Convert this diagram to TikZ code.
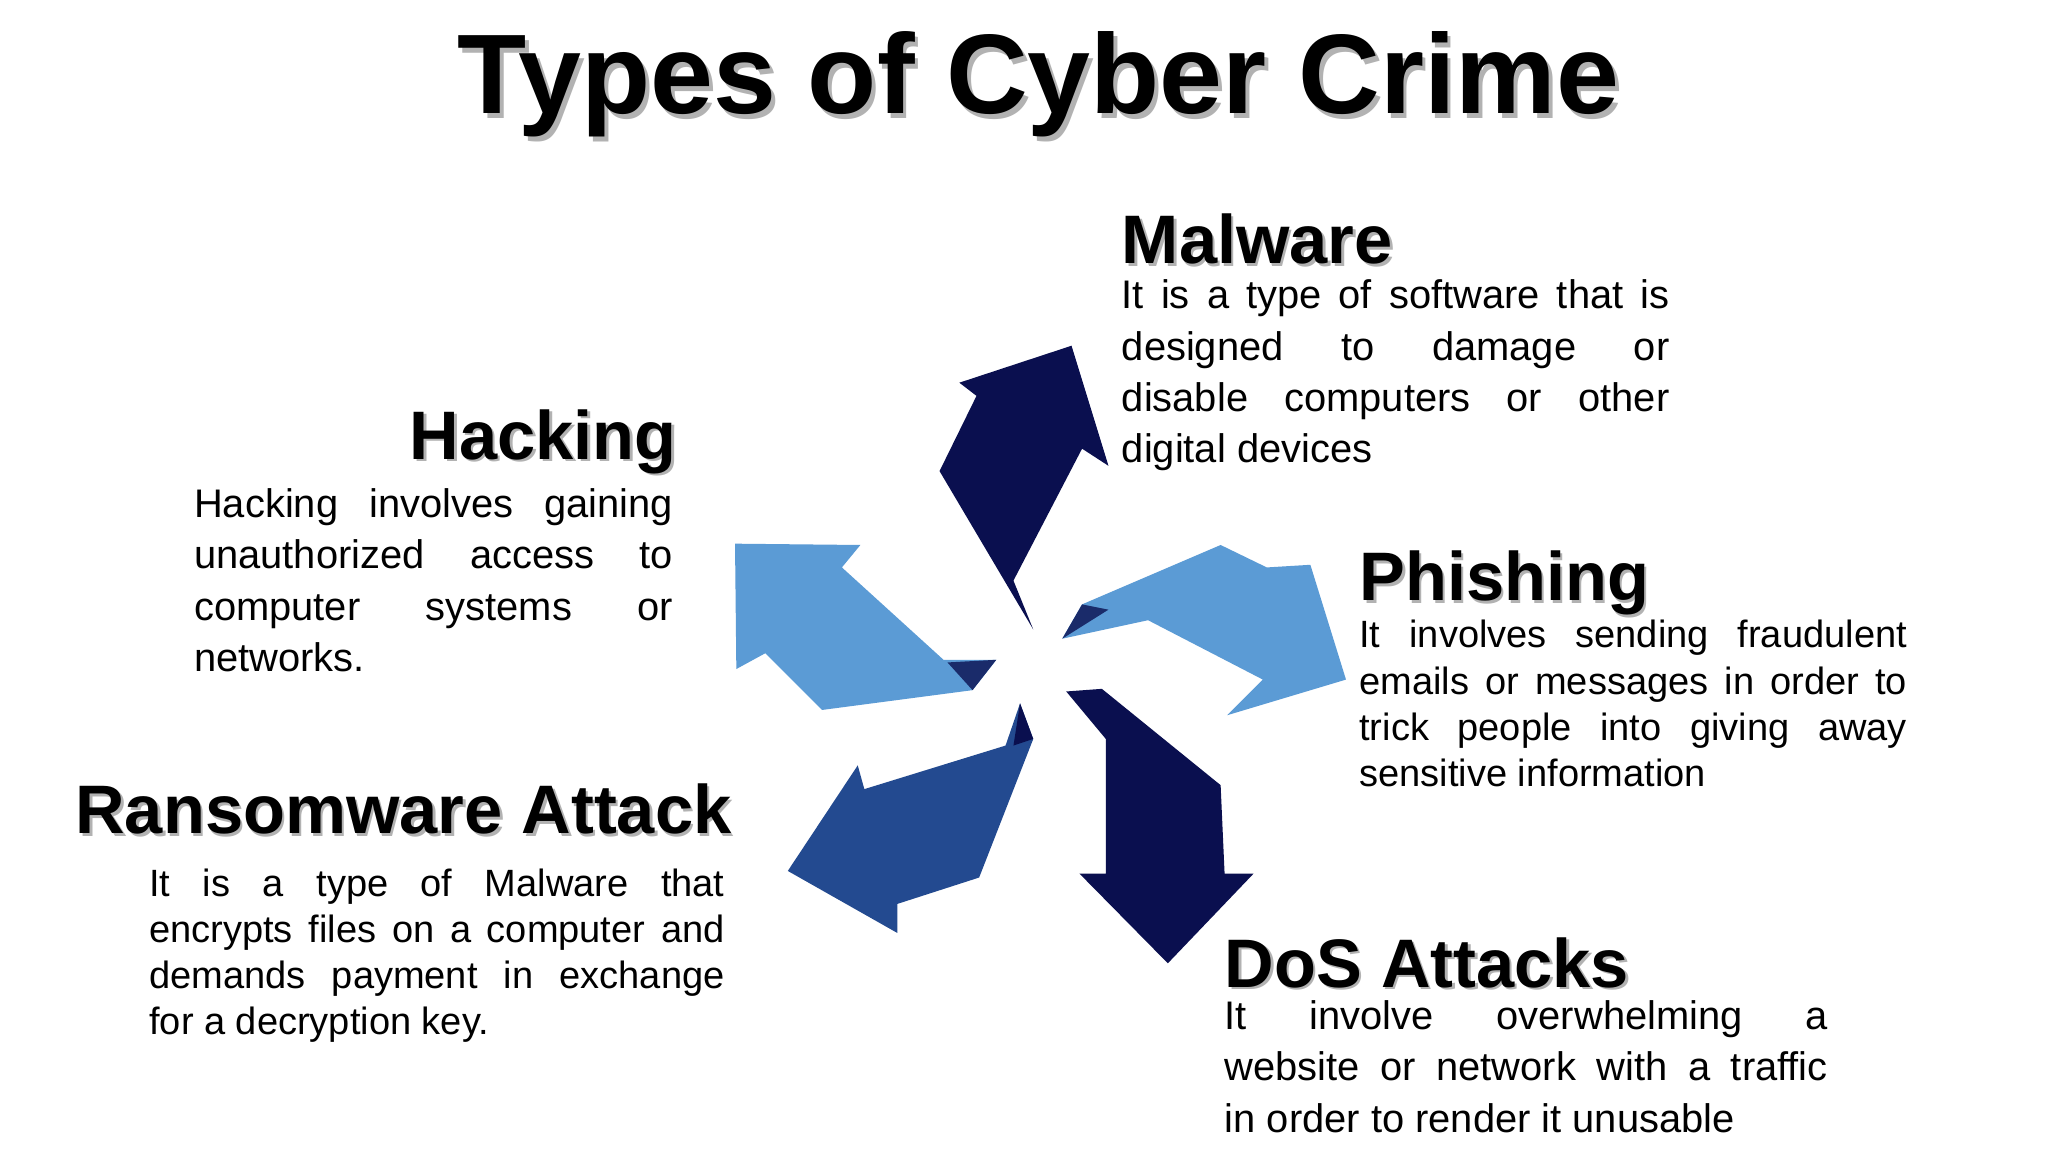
\documentclass[tikz,border=0pt]{standalone}
\usepackage{fontspec}
\setmainfont{Liberation Sans}
\definecolor{navy}{HTML}{0A0F4F}
\definecolor{lblue}{HTML}{5B9BD5}
\definecolor{mblue}{HTML}{234A90}
\begin{document}
\begin{tikzpicture}[x=0.05cm,y=-0.05cm,
 head/.style={inner sep=0pt,font=\bfseries\fontsize{74}{80}\selectfont},
 body/.style={inner sep=0pt,align=justify,anchor=north west,execute at begin node={\hyphenpenalty=10000\exhyphenpenalty=10000}}]
\useasboundingbox (0,0) rectangle (1552,873);
\fill[white] (0,0) rectangle (1552,873);
% title
\node[gray!60,font=\bfseries\fontsize{122}{126}\selectfont,inner sep=0pt] (tshadow) at (790,68) {Types of Cyber Crime};
\node[black,font=\bfseries\fontsize{122}{126}\selectfont,inner sep=0pt] (title) at (787,64) {Types of Cyber Crime};
% arrows
\fill[navy] (783,477) -- (712,357) -- (740,300) -- (727,290) -- (812,262) -- (840,353) -- (820,340) -- (768,440) -- cycle;
\fill[lblue] (805,484) -- (820,458) -- (925,413) -- (960,430) -- (993,428) -- (1020,515) -- (930,542) -- (957,515) -- (870,470) -- cycle;
\fill[navy] (808,524) -- (835,522) -- (925,595) -- (928,662) -- (950,662) -- (885,730) -- (818,662) -- (838,662) -- (838,560) -- cycle;
\fill[mblue] (773,533) -- (783,560) -- (742,665) -- (680,685) -- (680,707) -- (597,660) -- (650,580) -- (655,598) -- (762,565) -- cycle;
\fill[lblue] (755,500) -- (737,523) -- (623,538) -- (580,495) -- (558,507) -- (557,412) -- (652,413) -- (638,430) -- (715,500) -- cycle;
% dark overlaps near tails
\fill[navy!80!lblue] (805,484) -- (820,458) -- (840,462) -- cycle;
\fill[navy!80!lblue] (755,500) -- (737,523) -- (718,502) -- cycle;
\fill[navy] (773,533) -- (783,560) -- (768,565) -- cycle;
% headings
\node[head,gray!60,anchor=base west] (ms) at (852,202) {Malware};
\node[head,anchor=base west] (mh) at (850,200) {Malware};
\node[head,gray!60,anchor=base east] (hs) at (515,350) {Hacking};
\node[head,anchor=base east] (hh) at (513,348) {Hacking};
\node[head,gray!60,anchor=base west] (ps) at (1032,457) {Phishing};
\node[head,anchor=base west] (ph) at (1030,455) {Phishing};
\node[head,gray!60,anchor=base west] (rs) at (59,634) {Ransomware Attack};
\node[head,anchor=base west] (rh) at (57,632) {Ransomware Attack};
\node[head,gray!60,anchor=base west] (ds) at (930,750) {DoS Attacks};
\node[head,anchor=base west] (dh) at (928,748) {DoS Attacks};
% bodies
\node[body,text width=20.75cm,font=\fontsize{43}{55.4}\selectfont] (mb) at (850,212)
 {It is a type of software that is\linebreak designed to damage or\linebreak disable computers or other\linebreak digital devices};
\node[body,text width=18.15cm,font=\fontsize{43}{55.4}\selectfont] (hb) at (147,370)
 {Hacking involves gaining\linebreak unauthorized access to\linebreak computer systems or\linebreak networks.};
\node[body,text width=20.75cm,font=\fontsize{41}{49.7}\selectfont] (pb) at (1030,470)
 {It involves sending fraudulent\linebreak emails or messages in order to\linebreak trick people into giving away\linebreak sensitive information};
\node[body,text width=21.8cm,font=\fontsize{41}{49.7}\selectfont] (rb) at (113,658)
 {It is a type of Malware that\linebreak encrypts files on a computer and\linebreak demands payment in exchange\linebreak for a decryption key.};
\node[body,text width=22.85cm,font=\fontsize{43}{55.4}\selectfont] (db) at (928,758)
 {It involve overwhelming a\linebreak website or network with a traffic\linebreak in order to render it unusable};
\end{tikzpicture}
\end{document}
